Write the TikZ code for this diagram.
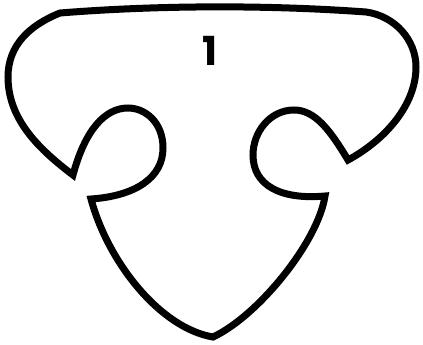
\documentclass[tikz,border=0pt]{standalone}
\usepackage{fontspec}
\setmainfont{Poppins}
\tikzset{
  outline/.style={draw=black, line width=7pt},
  piecenum/.style={font=\fontsize{40}{40}\selectfont\bfseries, inner sep=0pt}
}
\begin{document}
\begin{tikzpicture}[x=1pt,y=-1pt]
\useasboundingbox (0,0) rectangle (423,345);

% Outline of the piece
\draw[outline] (60,13) .. controls (160,5) and (270,5) .. (366,12)
  .. controls (395,16) and (416,40) .. (416,67)
  .. controls (416,105) and (385,140) .. (348,160)
  .. controls (330,130) and (315,110) .. (294,110)
  .. controls (270,110) and (253,132) .. (253,155)
  .. controls (253,185) and (280,200) .. (325,196)
  .. controls (318,242) and (258,316) .. (213,337)
  .. controls (160,328) and (108,262) .. (91,199)
  .. controls (135,196) and (163,178) .. (163,148)
  .. controls (163,122) and (145,108) .. (128,108)
  .. controls (105,108) and (85,130) .. (73,175)
  .. controls (40,150) and (8,120) .. (8,77)
  .. controls (8,45) and (30,25) .. cycle;

% Number
\node[piecenum] (num) at (210,51) {1};
\end{tikzpicture}
\end{document}
